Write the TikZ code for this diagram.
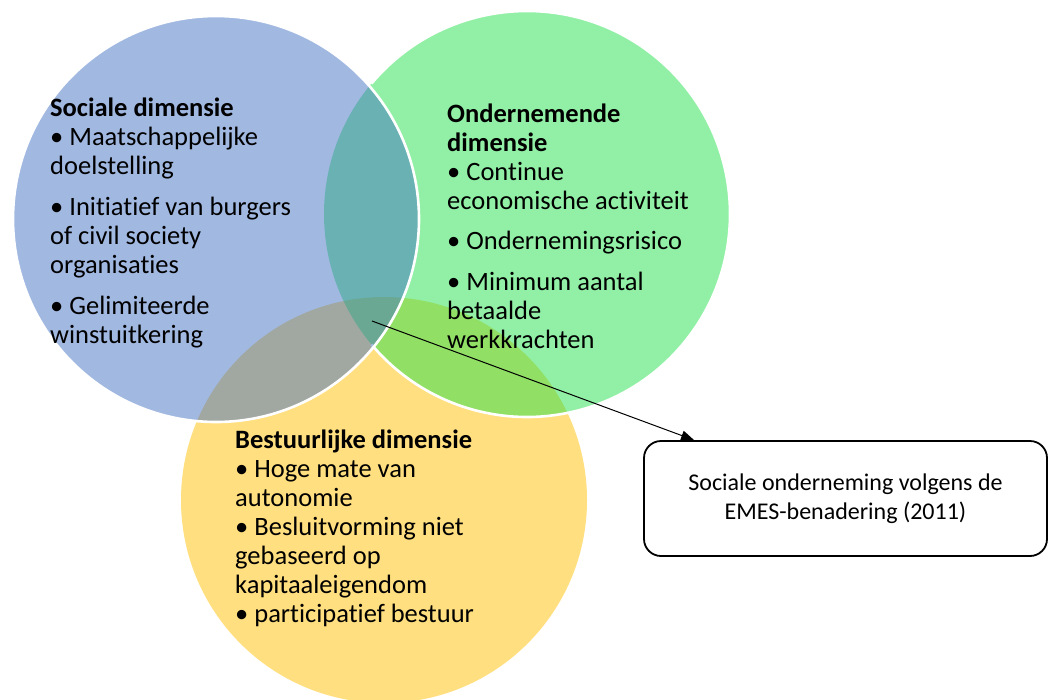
\documentclass[tikz,border=0pt]{standalone}
\usepackage{fontspec}
\setmainfont{Carlito}[Ligatures=NoCommon]
\usetikzlibrary{arrows.meta, positioning}

\definecolor{sociaalblauw}{HTML}{4472C4}
\definecolor{ondernemgroen}{HTML}{25E14D}
\definecolor{bestuurgeel}{HTML}{FFBF00}

\begin{document}
\begin{tikzpicture}[
    x=1pt, y=-1pt,
    venn/.style={circle, minimum size=406pt, inner sep=0pt, outer sep=0pt, fill opacity=0.5},
    rand/.style={white, line width=2.6pt},
    tekst/.style={anchor=base west, align=left, inner sep=0pt, font=\fontsize{26.5}{29}\selectfont},
    kader/.style={draw, rounded corners=17pt, line width=1.8pt, minimum width=403pt,
        minimum height=115pt, align=center, font=\fontsize{24}{29.5}\selectfont},
    pijl/.style={-{Triangle[length=13pt, width=10pt]}, line width=1pt}
]
    \useasboundingbox (0,0) rectangle (1054,699);

    % de drie cirkels
    \node[venn, fill=bestuurgeel] (bestuur) at (384,500) {};
    \node[venn, fill=ondernemgroen] (onderneem) at (527,214) {};
    \draw[rand] (onderneem.140) arc[start angle=140, end angle=-140, radius=203pt];
    \node[venn, fill=sociaalblauw, draw=white, line width=2.6pt] (sociaal) at (216,219) {};

    % teksten in de cirkels (anker op de basislijn van de laatste regel)
    \node[tekst] (sociaaltekst) at (50,343) {\textbf{Sociale dimensie}\\ • Maatschappelijke\\ doelstelling\\[12pt]
        • Initiatief van burgers\\ of civil society\\ organisaties\\[12pt] • Gelimiteerde\\ winstuitkering};
    \node[tekst] (onderneemtekst) at (447,348) {\textbf{Ondernemende}\\ \textbf{dimensie}\\ • Continue\\
        economische activiteit\\[11pt] • Ondernemingsrisico\\[12pt] • Minimum aantal\\ betaalde\\ werkkrachten};
    \node[tekst] (bestuurtekst) at (235,622) {\textbf{Bestuurlijke dimensie}\\ • Hoge mate van\\ autonomie\\
        • Besluitvorming niet\\ gebaseerd op\\ kapitaaleigendom\\ • participatief bestuur};

    % kader en pijl
    \node[kader] (emes) at (845.5,498.5) {Sociale onderneming volgens de\\ EMES-benadering (2011)};
    \coordinate (kern) at (372,321);
    \draw[pijl] (kern) -- ([xshift=51pt]emes.north west);
\end{tikzpicture}
\end{document}
